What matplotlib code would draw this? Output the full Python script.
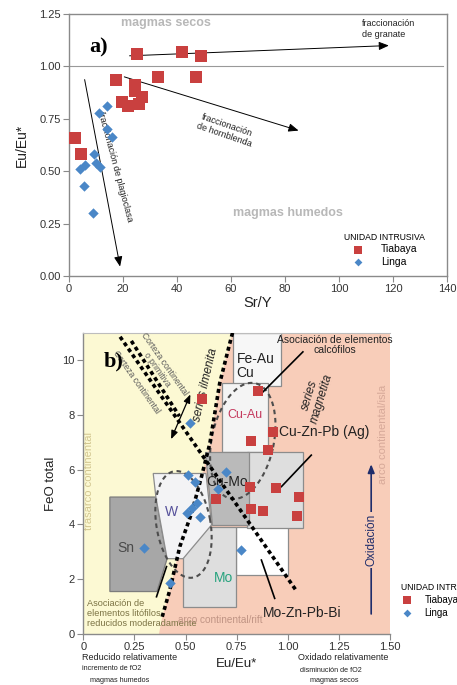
import numpy as np
import matplotlib
matplotlib.use('Agg')
import matplotlib.pyplot as plt
from matplotlib.patches import Polygon

plt.rcParams['font.family'] = ['Liberation Sans', 'DejaVu Sans']

# ---------------- data: panel a ----------------
tiabaya_a_sry = [25, 42, 49, 47, 33, 17.4, 24.3, 24.3, 27, 19.7, 22, 25.8, 2.2, 4.4]
tiabaya_a_eu = [1.06, 1.07, 1.05, 0.95, 0.95, 0.935, 0.91, 0.885, 0.855, 0.83, 0.81, 0.82, 0.66, 0.58]
linga_a_sry = [14, 11, 14.2, 16, 9.4, 9.9, 5.9, 4.1, 11.5, 5.7, 8.8]
linga_a_eu = [0.81, 0.78, 0.70, 0.665, 0.58, 0.54, 0.53, 0.51, 0.52, 0.43, 0.30]
a_xticks = [0, 20, 40, 60, 80, 100, 120, 140]
a_yticks = [0.00, 0.25, 0.50, 0.75, 1.00, 1.25]

# ---------------- data: panel b ----------------
tiabaya_b_eu = [0.58, 0.855, 0.928, 0.819, 0.904, 0.814, 0.944, 1.053, 0.822, 0.879, 1.047, 0.651]
tiabaya_b_feo = [8.58, 8.87, 7.38, 7.04, 6.72, 5.38, 5.34, 4.99, 4.55, 4.50, 4.31, 4.92]
linga_b_eu = [0.521, 0.513, 0.545, 0.505, 0.53, 0.555, 0.57, 0.298, 0.423, 0.70, 0.66, 0.773]
linga_b_feo = [7.69, 5.80, 5.56, 4.40, 4.59, 4.77, 4.28, 3.13, 1.87, 5.92, 5.30, 3.07]
b_xticks = [0, 0.25, 0.50, 0.75, 1.00, 1.25, 1.50]
b_xticklabels = ['0', '0.25', '0.50', '0.75', '1.00', '1.25', '1.50']
b_yticks = [0, 2, 4, 6, 8, 10]

# diagram fields (Eu/Eu*, FeO)
ilmenite_x = [0.37, 0.386, 0.423, 0.472, 0.529, 0.578, 0.619, 0.667, 0.716, 0.73]
ilmenite_y = [0.0, 0.63, 1.6, 3.19, 4.4, 5.74, 6.96, 9.15, 10.6, 11.0]
sn_field = [(0.13, 1.55), (0.13, 5.0), (0.355, 5.0), (0.41, 2.75), (0.36, 1.55)]
w_field = [(0.342, 5.86), (0.60, 5.86), (0.627, 3.98), (0.488, 2.75), (0.41, 2.75), (0.355, 5.0)]
mo_field = [(0.488, 1.0), (0.749, 1.0), (0.749, 3.92), (0.488, 3.92)]
mozn_field = [(0.749, 2.15), (1.0, 2.15), (1.0, 3.92), (0.749, 3.92)]
feau_field = [(0.732, 9.06), (0.969, 9.06), (0.969, 11.0), (0.732, 11.0)]
cuau_field = [(0.676, 6.65), (0.903, 6.65), (0.903, 9.15), (0.676, 9.15)]
cuzn_field = [(0.80, 3.86), (1.074, 3.86), (1.074, 6.65), (0.80, 6.65)]
cumo_field = [(0.594, 6.65), (0.81, 6.65), (0.81, 3.98), (0.627, 3.98)]

RED = '#c9403f'
BLUE = '#4a87c7'
SPINE = '#8a8a8a'
TXT = '#333333'

fig = plt.figure(figsize=(4.57, 6.85), dpi=100)

def fx(px):
    return px / 457.0

def fy(py):
    return 1 - py / 685.0

# ======================= panel a =======================
axA = fig.add_axes([fx(69), fy(276), (447 - 69) / 457, (276 - 14) / 685])
axA.set_xlim(0, 140)
axA.set_ylim(0, 1.25)
axA.set_xticks(a_xticks)
axA.set_yticks(a_yticks)
axA.set_yticklabels(['%.2f' % v for v in a_yticks])
for s in axA.spines.values():
    s.set_color(SPINE)
    s.set_linewidth(1.0)
axA.tick_params(direction='out', length=4, color=SPINE, labelsize=8, labelcolor=TXT, pad=2)
axA.set_xlabel('Sr/Y', fontsize=10.5, color='#222222', labelpad=1)
axA.set_ylabel('Eu/Eu*', fontsize=10, color='#222222', labelpad=7)

axA.plot([0, 138.5], [1.0, 1.0], color='#999999', lw=0.8, zorder=1)

arrow_kw = dict(arrowstyle='-|>,head_length=0.6,head_width=0.25', color='black', lw=0.7)
axA.annotate('', xy=(119.5, 1.10), xytext=(21.4, 1.05), arrowprops=arrow_kw, zorder=2)
axA.annotate('', xy=(86, 0.69), xytext=(19.5, 0.954), arrowprops=arrow_kw, zorder=2)
axA.annotate('', xy=(19.1, 0.032), xytext=(5.6, 0.95), arrowprops=arrow_kw, zorder=2)

axA.text(108.4, 1.18, 'fraccionación\nde granate', fontsize=6.5, ha='left', va='center',
         color='#222222', linespacing=1.3)
axA.text(58, 0.695, 'fraccionación\nde hornblenda', fontsize=6.5, ha='center', va='center',
         rotation=-19, rotation_mode='anchor', color='#222222', linespacing=1.2)
axA.text(17.2, 0.52, 'fraccionación de plagioclasa', fontsize=6.5, ha='center', va='center',
         rotation=-75, rotation_mode='anchor', color='#222222')
axA.text(36, 1.205, 'magmas secos', fontsize=9, fontweight='bold', color='#b8b8b8',
         ha='center', va='center')
axA.text(81, 0.302, 'magmas humedos', fontsize=9, fontweight='bold', color='#b8b8b8',
         ha='center', va='center')
axA.text(10.9, 1.09, 'a)', fontsize=16, fontweight='bold', family='Liberation Serif',
         ha='center', va='center')

axA.scatter(tiabaya_a_sry, tiabaya_a_eu, marker='s', s=72, color=RED, label='Tiabaya', zorder=4,
            linewidths=0)
axA.scatter(linga_a_sry, linga_a_eu, marker='D', s=28, color=BLUE, label='Linga', zorder=4,
            linewidths=0)
legA = axA.legend(title='UNIDAD INTRUSIVA', loc='center', bbox_to_anchor=(0.835, 0.10),
                  frameon=False, fontsize=7.5, title_fontsize=6.2, handletextpad=1.6,
                  labelspacing=0.25, markerscale=0.75, borderpad=0, handlelength=1.2)

# ======================= panel b =======================
axB = fig.add_axes([fx(83.3), fy(634), (390 - 83.3) / 457, (634 - 332.7) / 685])
axB.set_xlim(0, 1.5)
axB.set_ylim(0, 11)
axB.set_xticks(b_xticks)
axB.set_xticklabels(b_xticklabels)
axB.set_yticks(b_yticks)
axB.set_facecolor('#f8cdb9')
axB.spines['right'].set_visible(False)
axB.spines['top'].set_color('#bdbdbd')
axB.spines['top'].set_linewidth(0.8)
for k in ['left', 'bottom']:
    axB.spines[k].set_color(SPINE)
    axB.spines[k].set_linewidth(1.0)
axB.tick_params(direction='out', length=4, color=SPINE, labelsize=8, labelcolor=TXT, pad=2)
axB.set_xlabel('Eu/Eu*', fontsize=9.5, color='#222222', labelpad=4)
axB.set_ylabel('FeO total', fontsize=9.5, color='#222222', labelpad=4)

# yellow (trasarco) region left of ilmenite series
yellow = [(0, 0)] + list(zip(ilmenite_x, ilmenite_y)) + [(0, 11)]
axB.add_patch(Polygon(yellow, closed=True, facecolor='#fcf9d3', edgecolor='none', zorder=0.5))

def field(pts, fc, ec='#8c8c8c', z=1):
    axB.add_patch(Polygon(pts, closed=True, facecolor=fc, edgecolor=ec, lw=0.9, zorder=z))

field(mozn_field, '#ffffff', z=1.0)
field(mo_field, '#dedede', z=1.1)
field(sn_field, '#a7a7a7', ec='#7c7c7c', z=1.2)
field(w_field, '#f3f3f5', z=1.3)
field(feau_field, '#f7f7f7', z=1.4)
field(cuau_field, '#f4f4f4', z=1.5)
field(cuzn_field, '#dedede', z=1.6)
field(cumo_field, '#bababa', z=1.7)

# dashed ellipses
def ellipse_pts(cx, cy, a_px, b_px, ang):
    t = np.linspace(0, 2 * np.pi, 200)
    u = a_px * np.cos(t)
    v = b_px * np.sin(t)
    r = np.deg2rad(ang)
    ur = u * np.cos(r) - v * np.sin(r)
    vr = u * np.sin(r) + v * np.cos(r)
    return cx + ur / 204.5, cy + vr / 27.4

ex, ey = ellipse_pts(0.49, 4.0, 27, 54, 10)
axB.plot(ex, ey, color='#4d4d4d', lw=1.5, linestyle=(0, (2.2, 1.8)), zorder=3)
ex, ey = ellipse_pts(0.78, 7.05, 31, 59, -12)
axB.plot(ex, ey, color='#4d4d4d', lw=1.5, linestyle=(0, (2.2, 1.8)), zorder=3)

# thick dotted lines
dot = (0, (1.1, 0.9))
axB.plot(ilmenite_x[1:], ilmenite_y[1:], color='black', lw=2.6, linestyle=dot, zorder=3.5)
axB.plot([0.18, 1.04], [10.85, 1.6], color='black', lw=2.6, linestyle=dot, zorder=3.5)
axB.plot([0.235, 0.47], [10.7, 7.95], color='black', lw=2.6, linestyle=dot, zorder=3.5)

# double arrow
axB.annotate('', xy=(0.529, 8.84), xytext=(0.424, 7.02),
             arrowprops=dict(arrowstyle='<|-|>,head_length=0.5,head_width=0.2', color='black', lw=0.9),
             zorder=4)

# leader lines
for (x0, y0, x1, y1) in [(1.074, 10.3, 0.879, 8.84), (1.115, 6.53, 0.969, 5.38),
                         (0.871, 2.70, 0.936, 1.30), (0.358, 1.36, 0.407, 2.46)]:
    axB.plot([x0, x1], [y0, y1], color='black', lw=1.2, zorder=4)

# oxidation arrow
axB.annotate('', xy=(1.408, 6.3), xytext=(1.408, 0.63),
             arrowprops=dict(arrowstyle='-|>,head_length=0.5,head_width=0.2', color='#1f2d6b', lw=1.2),
             zorder=3)
axB.text(1.408, 3.43, 'Oxidación', rotation=90, fontsize=8.5, color='#1f2d6b', ha='center', va='center',
         bbox=dict(facecolor='#f8cdb9', edgecolor='none', pad=1.5), zorder=4)

# field labels
axB.text(0.75, 9.78, 'Fe-Au\nCu', fontsize=10, ha='left', va='center', color='#222222',
         linespacing=1.0, zorder=5)
axB.text(0.79, 8.0, 'Cu-Au', fontsize=9, ha='center', va='center', color='#c53a5e', zorder=5)
axB.text(0.60, 5.56, 'Cu-Mo', fontsize=10, ha='left', va='center', color='#222222', zorder=5)
axB.text(0.43, 4.46, 'W', fontsize=10, ha='center', va='center', color='#55509a', zorder=5)
axB.text(0.21, 3.13, 'Sn', fontsize=10, ha='center', va='center', color='#4a4a4a', zorder=5)
axB.text(0.684, 2.03, 'Mo', fontsize=10, ha='center', va='center', color='#27a37e', zorder=5)
axB.text(1.18, 7.38, 'Cu-Zn-Pb (Ag)', fontsize=10, ha='center', va='center', color='#222222', zorder=5)
axB.text(1.07, 0.75, 'Mo-Zn-Pb-Bi', fontsize=10, ha='center', va='center', color='#222222', zorder=5)
axB.text(1.23, 10.55, 'Asociación de elementos\ncalcófilos', fontsize=7.5, ha='center', va='center',
         color='#222222', linespacing=1.1, zorder=5)
axB.text(0.02, 0.75, 'Asociación de\nelementos litófilos\nreducidos moderadamente', fontsize=6.6,
         ha='left', va='center', color='#7b7344', linespacing=1.15, zorder=5)
axB.text(0.03, 5.6, 'trasarco continental', rotation=90, fontsize=8, ha='center', va='center',
         color='#d2c690', zorder=2)
axB.text(1.465, 7.3, 'arco continental/isla', rotation=90, fontsize=8, ha='center', va='center',
         color='#d6a898', zorder=2)
axB.text(0.67, 0.5, 'arco continental/rift', fontsize=7.2, ha='center', va='center',
         color='#c09484', zorder=5)
axB.text(1.135, 8.65, 'series\nmagnetita', rotation=73, fontsize=8.5, style='italic',
         ha='center', va='center', color='#222222', linespacing=1.0, zorder=5)
axB.text(0.60, 9.1, 'series ilmenita', rotation=77, fontsize=8.5, style='italic',
         ha='center', va='center', color='#222222', zorder=5)
axB.text(0.26, 9.2, 'Corteza continental', rotation=-55, fontsize=6.2, ha='center', va='center',
         color='#5a5a5a', rotation_mode='anchor', zorder=5)
axB.text(0.38, 9.75, 'Corteza continental\no primitiva', rotation=-55, fontsize=6.2,
         ha='center', va='center', color='#5a5a5a', rotation_mode='anchor', linespacing=1.1, zorder=5)
axB.text(0.15, 9.95, 'b)', fontsize=16, fontweight='bold', family='Liberation Serif',
         ha='center', va='center', zorder=6)

axB.scatter(tiabaya_b_eu, tiabaya_b_feo, marker='s', s=58, color=RED, label='Tiabaya', zorder=6,
            linewidths=0)
axB.scatter(linga_b_eu, linga_b_feo, marker='D', s=28, color=BLUE, label='Linga', zorder=6,
            linewidths=0)
legB = axB.legend(title='UNIDAD INTRUSIVA', loc='upper left', bbox_to_anchor=(1.02, 0.185),
                  frameon=False, fontsize=7, title_fontsize=6.2, handletextpad=1.2,
                  labelspacing=0.3, markerscale=0.75, borderpad=0, handlelength=1.2,
                  alignment='left')

# texts below panel b
fig.text(fx(82), fy(657), 'Reducido relativamente', fontsize=6.5, ha='left', va='center', color='#222222')
fig.text(fx(82), fy(669), 'incremento de fO2', fontsize=5.2, ha='left', va='center', color='#222222')
fig.text(fx(90), fy(681), 'magmas humedos', fontsize=5.2, ha='left', va='center', color='#222222')
fig.text(fx(298), fy(658), 'Oxidado relativamente', fontsize=6.5, ha='left', va='center', color='#222222')
fig.text(fx(300), fy(670), 'disminución de fO2', fontsize=5.2, ha='left', va='center', color='#222222')
fig.text(fx(310), fy(681), 'magmas secos', fontsize=5.2, ha='left', va='center', color='#222222')

fig.savefig('out.png', dpi=100)
